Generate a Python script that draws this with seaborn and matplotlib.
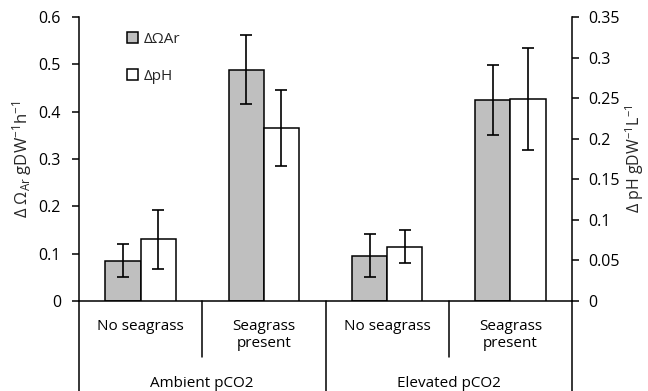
import numpy as np
import pandas as pd
import matplotlib
matplotlib.use("Agg")
import matplotlib.pyplot as plt
from matplotlib.patches import Patch
from matplotlib.ticker import FuncFormatter, MultipleLocator
import seaborn as sns

# data
groups = ["Ambient pCO2", "Elevated pCO2"]
treatments = ["No seagrass", "Seagrass\npresent"]
omega = [0.085, 0.489, 0.096, 0.425]        # left axis
omega_err = [0.035, 0.073, 0.046, 0.074]
ph = [0.076, 0.213, 0.067, 0.249]           # right axis
ph_err = [0.036, 0.047, 0.020, 0.063]
series = ["\u0394\u03A9Ar", "\u0394pH"]

sns.set_theme(style="white")
plt.rcParams["font.family"] = ["Open Sans", "DejaVu Sans"]
plt.rcParams["mathtext.default"] = "regular"

keys = [g + "|" + t for g in groups for t in treatments]
df = pd.DataFrame({
    "cat": keys * 2,
    "series": [series[0]] * 4 + [series[1]] * 4,
    "value": omega + ph,
})
palette = {series[0]: "#BFBFBF", series[1]: "white"}

fig = plt.figure(figsize=(6.48, 3.91), dpi=100)
ax = fig.add_axes([79 / 648, 1 - 301 / 391, 493 / 648, 284 / 391])
ax2 = ax.twinx()

def draw(axis, name, errs):
    sub = df[df["series"] == name]
    sns.barplot(data=sub, x="cat", y="value", hue="series", order=keys,
                hue_order=series, palette=palette, errorbar=None, dodge=True,
                edgecolor="black", linewidth=1.1, width=0.57, legend=False,
                ax=axis)
    bars = [p for p in axis.patches if p.get_height() > 0]
    bars.sort(key=lambda p: p.get_x())
    xs = [p.get_x() + p.get_width() / 2 for p in bars]
    hs = [p.get_height() for p in bars]
    axis.errorbar(xs, hs, yerr=errs, fmt="none", ecolor="black",
                  elinewidth=1.2, capsize=4.5, capthick=1.2)

draw(ax, series[0], omega_err)
draw(ax2, series[1], ph_err)

ax.set_ylim(0, 0.6)
ax2.set_ylim(0, 0.35)
ax.set_xlim(-0.5, 3.5)
ax.yaxis.set_major_locator(MultipleLocator(0.1))
ax2.yaxis.set_major_locator(MultipleLocator(0.05))
fmt = FuncFormatter(lambda v, p: "%g" % round(v, 3))
ax.yaxis.set_major_formatter(fmt)
ax2.yaxis.set_major_formatter(fmt)

for a in (ax, ax2):
    a.set_xlabel("")
    a.set_ylabel("")
    a.spines["top"].set_visible(False)
    for s in a.spines.values():
        s.set_color("black")
        s.set_linewidth(1.1)
ax.spines["right"].set_visible(False)
ax2.spines["left"].set_visible(False)
ax2.spines["bottom"].set_visible(False)

ax.tick_params(axis="y", direction="out", length=5, width=1.1, labelsize=11.5,
               left=True, colors="black", pad=8)
ax2.tick_params(axis="y", direction="out", length=5, width=1.1, labelsize=11.5,
                right=True, colors="black", pad=7)
ax.set_xticks(range(len(keys)))
ax.set_xticklabels([t for g in groups for t in treatments], fontsize=11,
                   linespacing=1.2, color="black")
ax.tick_params(axis="x", length=0, pad=13)
ax2.tick_params(axis="x", bottom=False, labelbottom=False)

ax.set_ylabel("\u0394 \u03A9$_{Ar}$ gDW$^{-1}$h$^{-1}$", fontsize=12, labelpad=3)
ax2.set_ylabel("\u0394 pH gDW$^{-1}$L$^{-1}$", fontsize=11.5, labelpad=2,
               rotation=90)

# multi-level category axis
tr = ax.get_xaxis_transform()
for x in [-0.5, 1.5, 3.5]:
    ax.plot([x, x], [0, -0.33], color="black", lw=1.1, transform=tr, clip_on=False)
for x in [0.5, 2.5]:
    ax.plot([x, x], [0, -0.197], color="black", lw=1.1, transform=tr, clip_on=False)
for i, g in enumerate(groups):
    ax.text(i * 2 + 0.5, -0.29, g, transform=tr, ha="center", va="center",
            fontsize=11, color="black")

handles = [Patch(facecolor=palette[s], edgecolor="black", linewidth=1.1, label=s)
           for s in series]
ax2.legend(handles=handles, loc="upper left", bbox_to_anchor=(0.07, 0.995),
           frameon=False, fontsize=11, handlelength=0.7, handleheight=0.7,
           handletextpad=0.4, labelspacing=1.4)

fig.savefig("out.png", dpi=100)
